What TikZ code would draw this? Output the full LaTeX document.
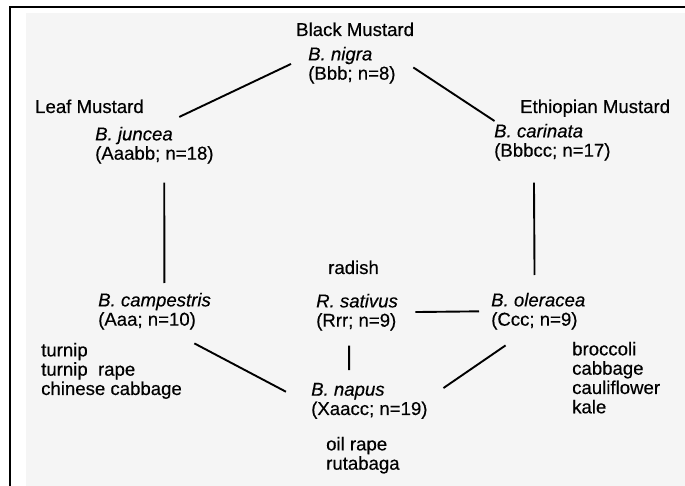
\documentclass[tikz,border=0pt]{standalone}
\usepackage{fontspec}
\setmainfont{Liberation Sans}[FakeBold=0.4]
\usetikzlibrary{calc}

\begin{document}
\begin{tikzpicture}[x=1pt, y=-1pt,
    txt/.style={inner sep=0pt, font=\fontsize{18.6}{19.3}\selectfont},
    spc/.style={txt, align=left, anchor=north west},
    lbl/.style={txt, anchor=base west},
    link/.style={line width=1.9pt}]
    % page
    \useasboundingbox(0,0)rectangle(685,486);
    \path[fill=black!4](26,13)rectangle(685,486);
    \path[draw, line width=2pt](10,486)--(10,7)--(685,7);
    % common names
    \node[lbl](black)at(296,36){Black Mustard};
    \node[lbl](leaf)at(35,113){Leaf Mustard};
    \node[lbl](ethio)at(520,113){Ethiopian Mustard};
    \node[lbl](radish)at(328,274){radish};
    % species
    \node[spc](nigra)at(308,46.7){\textit{B. nigra}\\(Bbb; n=8)};
    \node[spc](juncea)at(95,126.7){\textit{B. juncea}\\(Aaabb; n=18)};
    \node[spc](carinata)at(494,123.7){\textit{B. carinata}\\(Bbbcc; n=17)};
    \node[spc](campestris)at(98,292.7){\textit{B. campestris}\\(Aaa; n=10)};
    \node[spc](sativus)at(316,293.7){\textit{R. sativus}\\(Rrr; n=9)};
    \node[spc](oleracea)at(491,292.7){\textit{B. oleracea}\\(Ccc; n=9)};
    \node[spc](napus)at(311,382.7){\textit{B. napus}\\(Xaacc; n=19)};
    % crops
    \node[spc](turnip)at(41,342.7){turnip\\turnip\ \ rape\\chinese cabbage};
    \node[spc](broccoli)at(572,341.7){broccoli\\cabbage\\cauliflower\\kale};
    \node[spc](oilrape)at(326,436.7){oil rape\\rutabaga};
    % crosses
    \path[draw, link, shorten <=18.8pt, shorten >=22.8pt](nigra.168)to(juncea.77);
    \path[draw, link, shorten <=21pt, shorten >=4.9pt](nigra.12)to(carinata.161);
    \path[draw, link, shorten <=18.8pt, shorten >=9.7pt](juncea.298)to(campestris.62);
    \path[draw, link, shorten <=21.8pt, shorten >=17.7pt](carinata.225)to(oleracea.101);
    \path[draw, link, shorten <=17.3pt, shorten >=12pt](sativus.east)to(oleracea.west);
    \path[draw, link, shorten <=29.3pt, shorten >=28.3pt](campestris.307)to(napus.184);
    \path[draw, link, shorten <=14.8pt, shorten >=12.7pt](sativus.247)to(napus.138);
    \path[draw, link, shorten <=27.7pt, shorten >=19.1pt](oleracea.242)to(napus.2);
\end{tikzpicture}
\end{document}
